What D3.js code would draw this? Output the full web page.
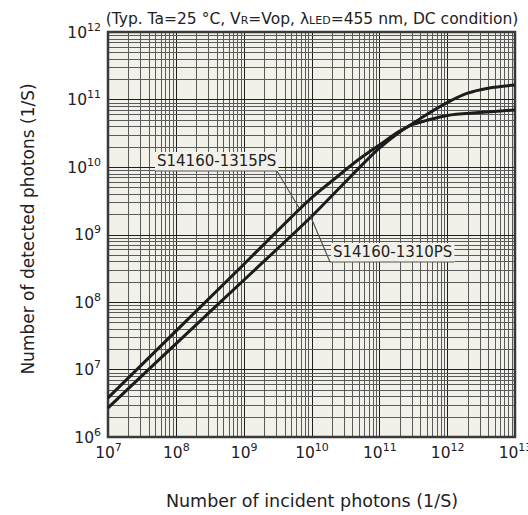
<!DOCTYPE html>
<html>
<head>
<meta charset="utf-8">
<script src="https://cdn.jsdelivr.net/npm/d3@7"></script>
<style>
  body { margin: 0; background: #fff; }
  svg { display: block; }
  text { font-family: "DejaVu Sans", Verdana, sans-serif; fill: #222; }
</style>
</head>
<body>
<svg id="chart" width="528" height="515"></svg>
<script>
// incident photons (1/S) -> detected photons (1/S)
const incident1315 = [1e7, 1e8, 1e9, 1e10, 2e10, 5e10, 1e11, 2e11, 3e11, 5e11, 1e12, 3e12, 1e13];
const detected1315 = [3.8e6, 3.7e7, 3.6e8, 3.5e9, 6.2e9, 1.3e10, 2.12e10, 3.4e10, 4.2e10, 4.9e10, 5.8e10, 6.4e10, 7.0e10];

const incident1310 = [1e7, 1e8, 1e9, 1e10, 3e10, 1e11, 2e11, 3e11, 5e11, 1e12, 2e12, 4e12, 1e13];
const detected1310 = [2.7e6, 2.4e7, 2.1e8, 1.85e9, 5.7e9, 1.9e10, 3.3e10, 4.3e10, 6.0e10, 9.0e10, 1.24e11, 1.47e11, 1.64e11];

const xExp = [7, 8, 9, 10, 11, 12, 13];
const yExp = [6, 7, 8, 9, 10, 11, 12];

const seriesNames = ['S14160-1315PS', 'S14160-1310PS'];

const svg = d3.select('#chart');
const plotL = 108, plotR = 515, plotT = 32, plotB = 437;

const x = d3.scaleLog().domain([1e7, 1e13]).range([plotL, plotR]);
const y = d3.scaleLog().domain([1e6, 1e12]).range([plotB, plotT]);

// plot background
svg.append('rect')
    .attr('x', plotL).attr('y', plotT)
    .attr('width', plotR - plotL).attr('height', plotB - plotT)
    .attr('fill', '#f2f1e9');

// grid
const grid = svg.append('g');
x.ticks().forEach(function(t) {
    const major = Math.abs(Math.log10(t) - Math.round(Math.log10(t))) < 1e-9;
    grid.append('line')
        .attr('x1', Math.round(x(t)) + 0.5).attr('x2', Math.round(x(t)) + 0.5)
        .attr('y1', plotT).attr('y2', plotB)
        .attr('stroke', major ? '#1e1e1e' : '#5a5a5a')
        .attr('stroke-width', 1);
});
y.ticks().forEach(function(t) {
    const major = Math.abs(Math.log10(t) - Math.round(Math.log10(t))) < 1e-9;
    grid.append('line')
        .attr('y1', Math.round(y(t)) + 0.5).attr('y2', Math.round(y(t)) + 0.5)
        .attr('x1', plotL).attr('x2', plotR)
        .attr('stroke', major ? '#1e1e1e' : '#5a5a5a')
        .attr('stroke-width', 1);
});

// frame
svg.append('rect')
    .attr('x', plotL).attr('y', plotT)
    .attr('width', plotR - plotL).attr('height', plotB - plotT)
    .attr('fill', 'none')
    .attr('stroke', '#3a3a3a')
    .attr('stroke-width', 2.5);

// axes (labels only)
const xAxis = svg.append('g')
    .attr('transform', 'translate(0,' + plotB + ')')
    .call(d3.axisBottom(x).tickValues(xExp.map(e => Math.pow(10, e))).tickSize(0).tickFormat(''));
xAxis.select('.domain').remove();
xAxis.selectAll('.tick').each(function(d, i) {
    const t = d3.select(this).append('text')
        .attr('y', 21)
        .attr('text-anchor', 'middle')
        .style('font-size', '15.5px');
    t.append('tspan').text('10');
    t.append('tspan').attr('dy', -7).style('font-size', '11px').text(xExp[i]);
});

const yAxis = svg.append('g')
    .attr('transform', 'translate(' + plotL + ',0)')
    .call(d3.axisLeft(y).tickValues(yExp.map(e => Math.pow(10, e))).tickSize(0).tickFormat(''));
yAxis.select('.domain').remove();
yAxis.selectAll('.tick').each(function(d, i) {
    const t = d3.select(this).append('text')
        .attr('x', -7)
        .attr('y', 5)
        .attr('text-anchor', 'end')
        .style('font-size', '15.5px');
    t.append('tspan').text('10');
    t.append('tspan').attr('dy', -7).style('font-size', '11px').text(yExp[i]);
});

// axis titles
svg.append('text')
    .attr('x', 312).attr('y', 507)
    .attr('text-anchor', 'middle')
    .style('font-size', '17.5px')
    .text('Number of incident photons (1/S)');

svg.append('text')
    .attr('transform', 'translate(34,229) rotate(-90)')
    .attr('text-anchor', 'middle')
    .style('font-size', '17px')
    .text('Number of detected photons (1/S)');

// condition title
const title = svg.append('text')
    .attr('x', 312).attr('y', 24)
    .attr('text-anchor', 'middle')
    .style('font-size', '15.5px');
title.append('tspan').text('(Typ. Ta=25 °C, V');
title.append('tspan').style('font-size', '11px').text('R');
title.append('tspan').text('=Vop, λ');
title.append('tspan').style('font-size', '11px').text('LED');
title.append('tspan').text('=455 nm, DC condition)');

// curves
const line = d3.line()
    .x(d => x(d[0]))
    .y(d => y(d[1]))
    .curve(d3.curveCatmullRom.alpha(0.5));

const curves = [d3.zip(incident1315, detected1315), d3.zip(incident1310, detected1310)];
svg.append('g').selectAll('path')
    .data(curves)
    .join('path')
    .attr('d', line)
    .attr('fill', 'none')
    .attr('stroke', '#1c1c1c')
    .attr('stroke-width', 3);

// labels with leader lines
function label(name, tx, ty, lineY, pts) {
    const g = svg.append('g');
    const t = g.append('text')
        .attr('x', tx).attr('y', ty)
        .style('font-size', '15px')
        .text(name);
    const bb = t.node().getBBox();
    g.insert('rect', 'text')
        .attr('x', bb.x - 2).attr('y', bb.y)
        .attr('width', bb.width + 4).attr('height', lineY - bb.y)
        .attr('fill', '#f2f1e9');
    g.append('polyline')
        .attr('points', pts.map(p => p.join(',')).join(' '))
        .attr('fill', 'none')
        .attr('stroke', '#555')
        .attr('stroke-width', 1.2);
}

label(seriesNames[0], 157, 166, 171,
    [[155, 171], [277, 171], [x(6.6e9), y(2.45e9)]]);
label(seriesNames[1], 333, 257, 262,
    [[454, 262], [330, 262], [x(9.6e9), y(1.9e9)]]);
</script>
</body>
</html>
